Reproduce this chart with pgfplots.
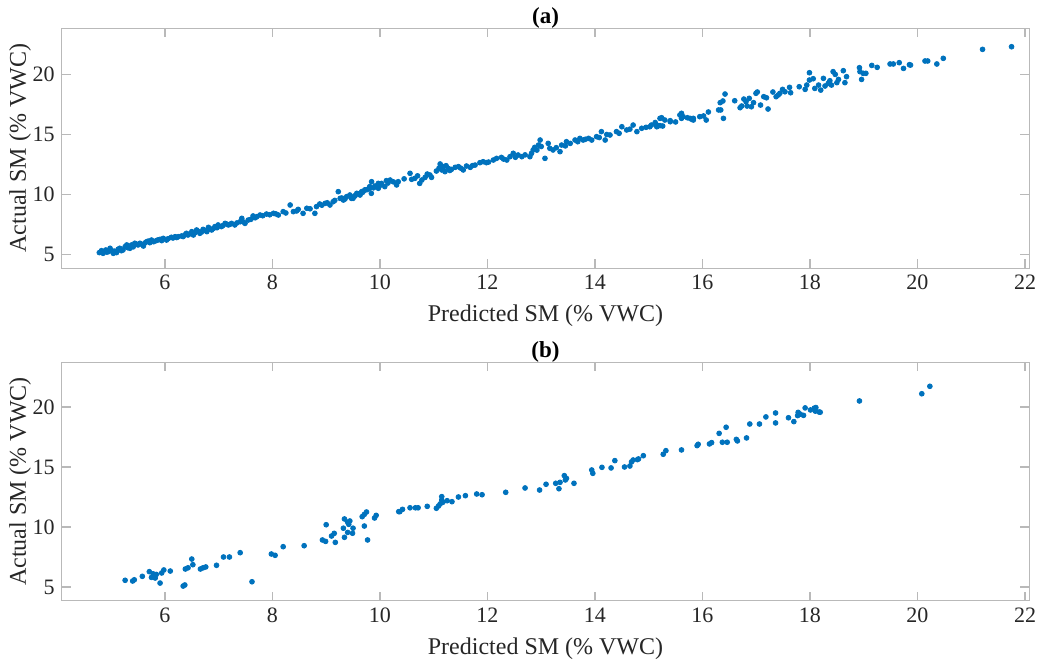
\documentclass[border=0pt]{standalone}
\usepackage{fontspec}
\setmainfont{Liberation Serif}
\usepackage{pgfplots}
\pgfplotsset{compat=1.18}
\definecolor{mblue}{RGB}{0,114,189}
\definecolor{axgray}{RGB}{185,185,185}
\definecolor{txtgray}{RGB}{38,38,38}
\pgfplotsset{mstyle/.style={
  scale only axis, width=483.8pt,
  xmin=4.08, xmax=22.08,
  xtick={6,8,...,22}, ytick={5,10,15,20},
  tick align=inside, major tick length=4.5pt,
  axis line style={axgray, line width=0.6pt}, every tick/.style={axgray, line width=0.6pt},
  tick label style={font=\fontsize{11}{13}\selectfont, text=txtgray},
  label style={font=\fontsize{12}{14}\selectfont, text=txtgray},
  every axis title/.style={font=\bfseries\fontsize{11.5}{13}\selectfont, text=black,
    at={(axis description cs:0.5,1)}, anchor=base, inner sep=0pt, yshift=2.5pt},
  xlabel style={at={(axis description cs:0.5,0)}, anchor=base, inner sep=0pt, yshift=-26.7pt},
  ylabel style={at={(axis description cs:-0.0430,0.5)}, anchor=center, inner sep=0pt},
  /pgf/number format/assume math mode=true,
  xlabel={Predicted SM (\% VWC)}, ylabel={Actual SM (\% VWC)},
},
pts/.style={only marks, mark=*, mark size=1.2pt, color=mblue, mark options={fill=mblue, draw=none}}}
\begin{document}
\begin{tikzpicture}
\useasboundingbox (0,0) rectangle (519.5pt,-331.5pt);
\begin{axis}[mstyle, at={(30.85pt,-134.15pt)}, anchor=south west, height=120pt,
  ymin=3.83, ymax=23.87, title={(a)}]
\addplot[pts] coordinates {
(4.78,5.14)(4.82,5.30)(4.85,5.08)(4.90,5.36)(4.95,5.22)(4.98,5.50)(5.01,5.30)(5.04,5.08)(5.10,5.14)(5.16,5.50)
(5.19,5.30)(5.26,5.64)(5.29,5.78)(5.35,5.50)(5.38,5.78)(5.44,5.92)(5.50,5.78)(5.535,5.92)(5.60,5.69)(5.66,6.05)
(5.72,5.97)(5.75,6.19)(5.84,6.14)(5.91,6.25)(5.97,6.33)(6.03,6.19)(6.12,6.42)(6.19,6.47)(6.25,6.47)(6.31,6.53)
(6.40,6.75)(6.43,6.61)(6.50,6.89)(6.53,6.61)(6.59,7.03)(6.65,6.75)(6.71,7.08)(6.78,6.89)(6.81,7.25)(6.87,7.03)
(6.93,7.31)(6.99,7.45)(7.05,7.31)(7.12,7.58)(7.18,7.45)(7.24,7.58)(7.30,7.45)(7.40,7.72)(7.43,8.00)(7.49,7.58)
(7.55,7.86)(7.64,8.20)(7.71,8.14)(7.77,8.28)(7.89,8.36)(8.02,8.42)(8.11,8.28)(8.20,8.56)(8.33,9.115)(8.39,8.56)
(8.48,8.75)(8.57,8.42)(8.64,8.84)(8.79,8.42)(8.82,8.98)(8.88,9.20)(8.98,9.25)(9.07,9.115)(9.13,9.39)(9.225,10.23)
(9.26,9.67)(9.32,9.53)(9.38,9.81)(9.44,9.95)(9.50,9.67)(9.57,10.09)(9.63,9.95)(9.72,10.37)(9.81,10.51)(9.84,10.09)
(9.91,10.65)(9.97,10.92)
(9.47,9.67)(9.535,9.87)(9.60,10.03)(9.66,10.23)(9.72,10.37)(9.81,10.65)(9.845,11.06)(9.91,10.70)(9.97,10.51)(10.03,10.92)
(10.09,10.65)(10.12,11.15)(10.19,11.20)(10.31,10.79)(10.34,11.06)(10.56,11.76)(10.59,11.26)(10.65,11.34)(10.74,10.92)(10.78,11.20)
(10.84,11.42)(10.93,11.62)(10.96,11.42)(11.12,12.54)(11.15,12.04)(11.18,12.32)(11.21,11.90)(11.27,12.18)(11.33,12.09)(11.40,12.26)
(11.46,12.32)(11.55,12.04)(11.61,12.37)(11.68,12.26)(11.77,12.45)(11.86,12.65)(11.92,12.73)(11.98,12.65)(12.11,12.87)(12.17,13.01)
(12.26,13.09)(12.36,12.87)(12.42,13.15)(12.48,13.43)(12.57,13.29)(12.64,13.15)(12.79,13.15)(12.82,13.43)(12.85,13.71)(12.88,13.93)
(12.95,14.12)(12.98,14.54)(13.07,13.01)(13.13,14.26)(13.16,13.85)(13.22,13.71)(13.35,13.57)(13.38,14.12)(13.47,14.40)(13.54,14.26)
(13.63,14.54)(13.72,14.68)(13.78,14.54)(13.88,14.68)(13.94,14.54)(14.03,14.82)(14.12,15.24)(14.19,14.54)(14.28,14.96)(14.40,15.24)
(14.50,15.65)(14.59,15.38)(14.71,15.79)(14.78,15.24)(14.87,15.52)(15.02,15.65)(15.15,15.79)(15.21,16.35)(15.30,16.21)(15.40,16.07)
(15.58,16.63)(15.64,16.49)(15.77,16.35)(15.83,16.21)
(15.05,15.79)(15.15,15.65)(15.21,15.74)(15.26,15.71)(15.24,16.40)(15.40,16.155)(15.61,16.77)(15.61,16.35)(15.80,16.27)(15.83,16.35)
(15.95,16.49)(16.02,16.55)(16.07,16.21)(16.11,16.88)(16.30,17.05)(16.34,17.05)(16.33,17.66)(16.38,17.80)(16.42,18.38)(16.39,16.35)
(16.60,17.82)(16.70,17.24)(16.73,17.38)(16.77,17.96)(16.81,17.74)(16.83,17.38)(16.87,18.02)(16.91,17.32)(16.95,17.66)(16.995,18.44)
(17.02,18.55)(17.08,17.46)(17.14,18.16)(17.19,18.07)(17.22,17.13)(17.31,18.55)(17.37,18.16)(17.41,18.30)(17.44,18.44)(17.49,18.77)
(17.535,18.57)(17.62,18.94)(17.64,18.49)(17.80,18.99)(17.91,18.77)(17.94,19.13)(17.99,20.16)(17.99,19.55)(18.06,19.66)(18.09,18.85)
(18.16,19.13)(18.20,18.71)(18.25,19.69)(18.28,19.05)(18.34,19.27)(18.37,19.49)(18.40,19.13)(18.43,20.25)(18.47,20.02)(18.50,19.33)
(18.53,19.60)(18.62,20.33)(18.65,19.33)(18.68,19.83)(18.92,20.58)(18.93,20.25)(18.96,19.60)(18.99,20.11)(19.04,20.11)(19.15,20.77)
(19.25,20.61)(19.49,20.89)(19.55,20.89)(19.66,21.00)(19.74,20.52)(19.85,20.83)(19.87,20.80)(20.14,21.14)(20.19,21.14)(20.36,20.89)
(20.48,21.36)(21.21,22.11)(21.75,22.33)
(4.83,5.22)(4.92,5.18)(5.06,5.26)(5.13,5.42)(5.22,5.36)(5.31,5.55)(5.41,5.62)(5.47,5.85)(5.57,5.83)(5.63,5.95)
(5.69,6.10)(5.79,6.05)(5.87,6.20)(5.94,6.14)(6.06,6.30)(6.15,6.36)(6.22,6.40)(6.34,6.48)(6.37,6.62)(6.46,6.70)
(6.56,6.80)(6.62,6.92)(6.68,6.85)(6.74,7.00)(6.84,7.10)(6.90,7.15)(6.97,7.22)(7.08,7.40)(7.15,7.52)(7.21,7.50)
(7.34,7.62)(7.46,7.70)(7.60,7.92)(7.68,8.05)(7.82,8.22)(7.95,8.30)(8.06,8.38)(8.25,8.45)(8.45,8.62)(8.70,8.80)
(8.92,9.10)(9.02,9.30)(9.16,9.50)(9.29,9.70)(9.35,9.62)(9.53,9.88)(9.68,10.18)(9.76,10.40)(9.88,10.55)(10.00,10.75)
(10.15,10.95)(10.25,11.05)(10.45,11.30)(10.70,11.55)(10.88,11.70)(11.05,11.95)(11.10,12.20)(11.23,12.40)(11.30,12.00)(11.50,12.20)
(11.72,12.40)(12.02,12.70)(12.30,12.95)(12.52,13.10)(12.70,13.30)(12.92,13.70)(13.00,14.00)(13.28,13.90)(13.45,14.05)(13.68,14.40)
(13.82,14.60)(14.08,14.75)(14.22,15.00)(14.45,15.10)(14.65,15.45)(14.95,15.60)(15.12,16.00)(15.50,16.05)(15.72,16.40)
};
\end{axis}
\begin{axis}[mstyle, at={(30.85pt,-300.35pt)}, anchor=south west, height=119.2pt,
  ymin=3.86, ymax=23.72, title={(b)}]
\addplot[pts] coordinates {
(5.26,5.56)(5.40,5.50)(5.43,5.60)(5.58,5.89)(5.71,6.28)(5.75,5.80)(5.78,6.10)(5.80,5.95)(5.82,5.75)(5.84,6.05)
(5.79,5.85)(5.91,5.33)(5.94,6.17)(5.98,6.42)(6.10,6.33)(6.34,5.08)(6.37,5.17)(6.38,6.50)(6.43,6.60)(6.50,7.33)
(6.52,6.86)(6.66,6.50)(6.71,6.60)(6.76,6.67)(6.96,6.81)(7.09,7.50)(7.20,7.50)(7.40,7.86)(7.62,5.44)(7.98,7.75)
(8.05,7.64)(8.20,8.36)(8.59,8.44)(8.93,8.92)(8.99,8.80)(9.00,10.19)(9.10,9.25)(9.15,9.47)(9.17,8.72)(9.34,10.67)
(9.40,10.40)(9.44,10.50)(9.42,10.22)(9.32,9.90)(9.40,9.55)(9.34,9.14)(9.50,9.90)(9.49,9.48)(9.67,10.86)(9.71,11.05)
(9.75,11.25)(9.71,10.08)(9.77,8.92)(9.90,10.75)(9.93,10.97)(10.35,11.28)(10.37,11.28)(10.42,11.47)(10.56,11.60)(10.66,11.60)
(10.71,11.60)(10.88,11.72)(11.05,11.56)(11.09,11.75)(11.12,11.92)(11.15,12.25)(11.15,12.53)(11.17,12.06)(11.25,12.19)(11.34,12.11)
(11.46,12.50)(11.59,12.61)(11.80,12.75)(11.90,12.69)(12.34,12.89)(12.70,13.25)(12.97,13.08)(13.09,13.56)(13.27,13.64)(13.33,13.19)
(13.35,13.72)(13.43,14.28)(13.45,13.92)(13.47,14.05)(13.61,13.64)(13.94,14.75)(13.96,14.47)(14.13,14.97)(14.30,14.92)(14.37,15.53)
(14.55,15.00)(14.65,15.08)(14.68,15.42)(14.71,15.58)(14.79,15.61)(14.81,15.67)(14.90,15.94)(15.27,16.06)(15.32,16.36)(15.61,16.42)
(15.90,16.78)(15.92,16.89)(16.13,16.92)(16.17,17.03)(16.31,17.80)(16.37,17.06)(16.46,17.06)(16.44,18.31)(16.63,17.30)(16.65,17.17)
(16.82,17.42)(16.88,18.58)(17.06,18.58)(17.18,19.17)(17.36,19.50)(17.36,18.67)(17.60,19.10)(17.70,18.78)(17.77,19.28)(17.78,19.55)
(17.82,19.40)(17.88,19.30)(17.91,19.92)(18.01,19.75)(18.08,19.90)(18.11,19.95)(18.10,19.65)(18.17,19.58)(18.19,19.56)(18.92,20.50)
(20.08,21.10)(20.23,21.72)
};
\end{axis}
\end{tikzpicture}
\end{document}
